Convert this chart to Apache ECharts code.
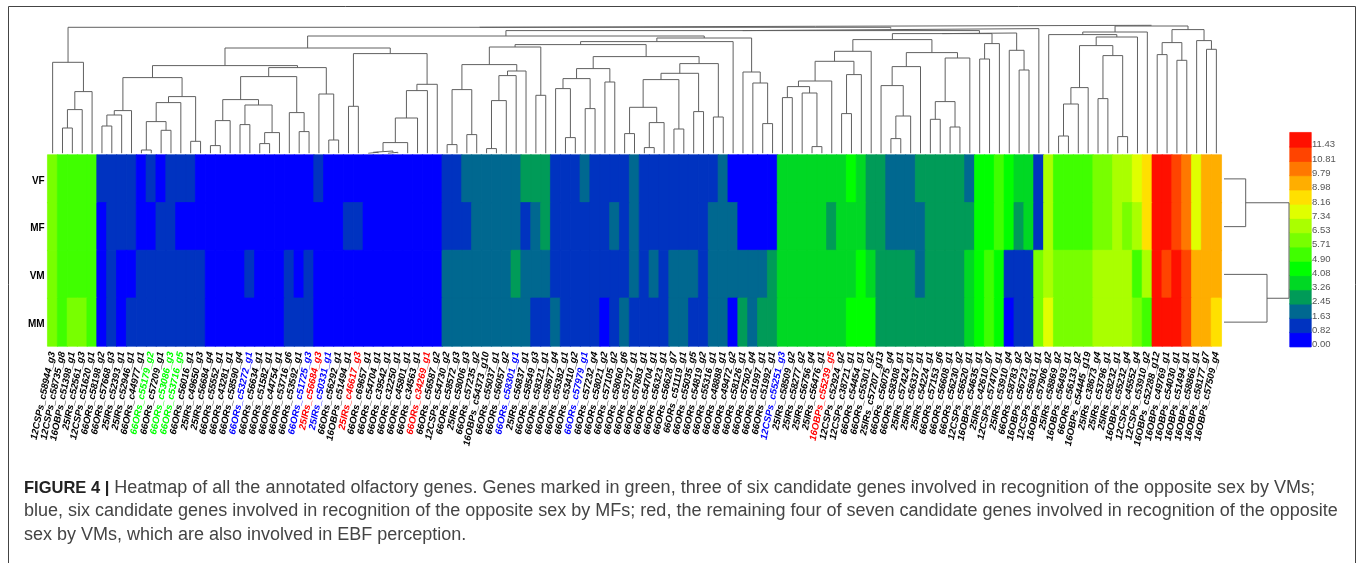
<!DOCTYPE html>
<html><head><meta charset="utf-8">
<style>html,body{margin:0;padding:0;background:#fff}#c{width:1357px;height:563px}</style>
<script src="https://cdn.jsdelivr.net/npm/echarts@6/dist/echarts.min.js"></script>
</head><body><div id="c"></div>
<script>
const samples = ['VF','MF','VM','MM'];
const genes = ['12CSPs_c58944_g3','12CSPs_c58735_g8','16OBPs_c51398_g1','25IRs_c52561_g3','12CSPs_c51620_g1','66ORs_c58198_g2','66ORs_c57668_g3','25IRs_c52393_g1','25IRs_c52946_g1','66ORs_c44977_g1',
'66ORs_c55179_g2','66ORs_c57209_g1','66ORs_c53086_g3','66ORs_c53716_g5','66ORs_c56016_g1','25IRs_c49650_g3','25IRs_c56684_g4','66ORs_c55552_g1','66ORs_c43281_g1','66ORs_c58590_g4',
'66ORs_c53272_g1','66ORs_c56634_g1','66ORs_c51582_g1','66ORs_c44754_g1','66ORs_c53716_g6','66ORs_c53592_g1','66ORs_c51725_g3','25IRs_c56684_g3','25IRs_c50331_g1','66ORs_c56292_g1',
'16OBPs_c51494_g1','25IRs_c46617_g3','66ORs_c69657_g1','66ORs_c54704_g1','66ORs_c39542_g1','66ORs_c32250_g1','66ORs_c45801_g1','66ORs_c34563_g1','66ORs_c34269_g1','66ORs_c56587_g2',
'12CSPs_c54730_g2','66ORs_c58572_g3','25IRs_c58006_g3','66ORs_c57235_g2','16OBPs_c54373_g10','66ORs_c55037_g1','66ORs_c56057_g2','66ORs_c58301_g1','25IRs_c56837_g1','66ORs_c58549_g3',
'66ORs_c58321_g1','66ORs_c58677_g4','66ORs_c55382_g1','66ORs_c53410_g2','66ORs_c57979_g1','66ORs_c57232_g4','66ORs_c58021_g2','66ORs_c57105_g2','66ORs_c58060_g6','66ORs_c53737_g1',
'66ORs_c57883_g1','66ORs_c54704_g1','66ORs_c56323_g1','66ORs_c56628_g7','66ORs_c51119_g1','66ORs_c55035_g5','66ORs_c54819_g2','66ORs_c55316_g1','66ORs_c48888_g1','66ORs_c49472_g2',
'66ORs_c58126_g1','66ORs_c57502_g4','66ORs_c51997_g1','66ORs_c51992_g1','12CSPs_c55251_g3','25IRs_c58509_g2','25IRs_c58277_g2','25IRs_c56756_g4','25IRs_c56476_g1','16OBPs_c55239_g5',
'12CSPs_c52924_g2','12CSPs_c38721_g1','66ORs_c54454_g1','66ORs_c55301_g2','25IRs_c57207_g13','66ORs_c56075_g4','66ORs_c58308_g1','25IRs_c57424_g1','25IRs_c56337_g1','25IRs_c54224_g1',
'66ORs_c57153_g6','66ORs_c56608_g1','66ORs_c56230_g2','12CSPs_c56520_g1','16OBPs_c54635_g1','25IRs_c42610_g7','12CSPs_c57470_g1','25IRs_c53910_g4','66ORs_c58783_g2','16OBPs_c56723_g2',
'12CSPs_c56831_g1','16OBPs_c57906_g2','25IRs_c58869_g2','16OBPs_c56493_g1','66ORs_c56133_g2','16OBPs_c54445_g19','25IRs_c38673_g4','25IRs_c53796_g1','25IRs_c58232_g1','16OBPs_c55232_g4',
'12CSPs_c45552_g4','12CSPs_c53910_g2','16OBPs_c52288_g12','16OBPs_c49769_g1','16OBPs_c54030_g1','16OBPs_c51494_g1','16OBPs_c58866_g1','16OBPs_c58177_g7','16OBPs_c57509_g4'];
const greenGenes = ['66ORs_c55179_g2','66ORs_c53086_g3','66ORs_c53716_g5'];
const blueGenes = ['66ORs_c53272_g1','66ORs_c51725_g3','25IRs_c50331_g1','66ORs_c58301_g1','66ORs_c57979_g1','12CSPs_c55251_g3'];
const redGenes = ['25IRs_c56684_g3','25IRs_c46617_g3','66ORs_c34269_g1','16OBPs_c55239_g5'];

const scaleTicks = [0.00,0.82,1.63,2.45,3.26,4.08,4.90,5.71,6.53,7.34,8.16,8.98,9.79,10.81,11.43];
const scaleColors = ['#0000ff','#0033c0','#006890','#009b58','#00d824','#00ff00','#40ff00','#78ff00','#aaff00','#e0ff00','#ffe000','#ffae00','#ff7800','#ff4400','#ff1000'];

/* expression, as steps of the colour scale */
const rowVF = [7,6,6,6,6,1,1,1,1,0, 1,0,1,1,1,0,0,0,0,0, 0,0,0,0,0,0,0,1,0,0, 0,0,0,0,0,0,0,0,0,0,
 1,1,2,2,2,2,2,2,3,3, 3,1,1,1,2,1,1,1,1,2, 1,1,1,1,1,1,1,1,2,0, 0,0,0,0,4,4,4,4,4,4,
 4,5,4,3,3,2,2,2,3,3, 3,3,3,2,5,5,6,5,4,4, 1,8,6,6,6,6,7,7,8,8, 9,10,14,14,13,12,9,11,11];
const rowMF = [7,6,6,6,6,0,1,1,1,0, 0,1,1,0,0,0,0,0,0,0, 0,0,0,0,0,0,0,0,0,0, 1,1,0,0,0,0,0,0,0,0,
 1,1,1,2,2,2,2,2,1,2, 3,1,1,1,1,1,1,2,1,2, 1,1,1,1,1,1,1,2,2,2, 0,0,0,0,4,4,4,4,4,3,
 4,4,4,3,3,2,2,2,2,3, 3,3,3,3,5,5,6,5,3,4, 1,8,6,6,6,6,7,7,8,7, 8,10,14,14,13,12,9,11,11];
const rowVM = [7,6,6,6,6,0,1,0,0,1, 1,1,1,1,1,1,0,0,0,0, 1,0,0,0,1,0,1,0,0,0, 0,0,0,0,0,0,0,0,0,0,
 2,2,2,2,2,2,2,3,2,2, 2,1,1,1,1,1,1,1,1,2, 1,2,1,2,2,2,1,2,2,2, 2,2,2,3,4,4,4,4,4,4,
 4,4,5,4,3,3,3,3,2,3, 3,3,3,4,5,6,5,1,1,1, 7,8,7,7,7,7,8,8,8,8, 6,8,14,13,14,13,11,11,11];
const rowMM = [7,6,7,7,6,0,1,0,1,1, 1,1,1,1,1,1,0,0,0,0, 0,0,0,0,1,1,1,0,0,0, 0,0,0,0,0,0,0,0,0,0,
 2,2,2,2,2,2,2,2,2,1, 1,2,1,1,1,1,0,1,2,1, 1,1,1,2,2,1,1,2,2,0, 3,2,3,3,4,4,4,4,4,4,
 4,5,5,5,3,3,3,3,3,3, 3,3,3,4,5,6,5,0,1,1, 7,9,7,7,7,7,8,8,8,8, 7,6,14,14,14,13,11,11,10];
const rows = [rowVF,rowMF,rowVM,rowMM];

/* gene clustering: [merge height, left, right]; a bare number is a column */
const geneTree = [128,
 [126,
  [91,0,[61.7,[43.7,[25.3,1,2],3],4]],
  [124.7,
   [122.7,
    [117.3,
     [105.3,
      [87.7,
       [75.7,
        [42.7,[38.3,[27.3,5,6],7],8],
        [56.7,[50.7,[31.7,[3.3,9,10],[23,11,12]],13],[12,14,15]]],
       [85.7,
        [76.7,
         [53.7,[32.7,[7.7,16,17],18],[48.3,[28.7,19,20],[20.7,[9.7,21,22],23]]],
         [40.7,24,[21.7,25,26]]],
        [59.3,27,[13.3,28,29]]]],
      [99.7,
       [47,30,31],
       [69,[62.7,[35.3,[10.7,[2.3,[1,32,33],[1,34,35]],36],37],38],39]]],
     [115.3,
      [111.7,
       [108.7,
        [106.3,
         [88.7,[63.7,[8.7,40,41],[18.7,42,43]],[82.3,[77.7,[52.7,[4.7,44,45],46],47],48]],
         [58,49,50]],
        [96.7,
         [84.7,[74.7,[64.7,51,[15.7,52,53]],[44.7,54,55]],[71.3,56,57]],
         [89.7,[80,[73.7,[46,[19.7,58,59],[30.7,[5.7,60,61],62]],[24.3,63,64]],[41.7,65,66]],[36.3,67,68]]]],
       69],
      [81.3,70,[70.3,71,[29.7,72,73]]]]],
    [120.3,
     [119.7,
      [113.7,
       [102,
        [92,
         [72.3,[66.7,[55.7,74,75],[60.3,76,[6.7,77,78]]],79],
         [78.7,[39.7,80,81],82]],
        83],
       [100.7,
        [86.7,[67.7,84,[37.3,[14.7,85,86],87]],88],
        [95.3,[51.7,[34,89,90],[26.3,91,92]],93]]],
      [109.7,[94.3,94,95],96]],
     [103,97,[83.3,98,99]]]],
   100]],
 [127.3,
  [121.3,
   [118.7,101,
    [116.3,
     [107.7,[65.7,[49.3,[17.3,102,103],104],105],[97.7,[54.7,106,107],[16.7,108,109]]],
     110]],
   111],
  [123.7,
   [110.7,[98.7,112,113],[93,114,115]],
   [112.7,116,[104,117,118]]]]];
const sampleTree = [65,[21.7,0,1],[43,2,3]];

const captionLines = [
 '{b|FIGURE 4 |} Heatmap of all the annotated olfactory genes. Genes marked in green, three of six candidate genes involved in recognition of the opposite sex by VMs;',
 'blue, six candidate genes involved in recognition of the opposite sex by MFs; red, the remaining four of seven candidate genes involved in recognition of the opposite',
 'sex by VMs, which are also involved in EBF perception.'];

function segments(tree, toPoint){
  const out=[];
  (function walk(n){
    if(typeof n==='number') return {p:n+0.5,h:0};
    const a=walk(n[1]), b=walk(n[2]);
    [[a.p,a.h],[a.p,n[0]],[b.p,n[0]],[b.p,b.h]].forEach(q=>out.push(toPoint(q[0],q[1])));
    out.push([null,null]);
    return {p:(a.p+b.p)/2,h:n[0]};
  })(tree);
  return out;
}
/* a hairline border in each cell's own colour closes the seams between cells */
const cell=(x,y,lv)=>({value:[x,y,scaleTicks[lv]],itemStyle:{borderColor:scaleColors[lv],borderWidth:0.7}});
const heat=[];
rows.forEach((r,j)=>r.forEach((lv,i)=>heat.push(cell(i,j,lv))));
const labelFont='"Liberation Sans",Arial,sans-serif';
const noAxis={show:false};
const chart=echarts.init(document.getElementById('c'),null,{renderer:'canvas'});
const L=47.7,W=1173.6;
chart.setOption({
 animation:false,backgroundColor:'#fff',
 grid:[
  {left:L,width:W,top:155,height:191},
  {left:L,width:W,top:0,height:153.3},
  {left:1224,width:65,top:155,height:191},
  {left:1290,width:21,top:132.7,height:214}
 ],
 xAxis:[
  {type:'category',gridIndex:0,data:genes,position:'bottom',axisLine:noAxis,axisTick:noAxis,splitLine:noAxis,
   axisLabel:{interval:0,rotate:78,margin:6,fontSize:9.6,fontWeight:'bold',fontStyle:'italic',fontFamily:labelFont,
    color:(v)=>greenGenes.includes(v)?'#00ff00':blueGenes.includes(v)?'#0000ff':redGenes.includes(v)?'#ff0000':'#000'}},
  {type:'value',gridIndex:1,min:0,max:genes.length,show:false},
  {type:'value',gridIndex:2,min:0,max:65,show:false},
  {type:'category',gridIndex:3,data:['c'],show:false}
 ],
 yAxis:[
  {type:'category',gridIndex:0,data:samples,inverse:true,axisLine:noAxis,axisTick:noAxis,splitLine:noAxis,
   axisLabel:{margin:3,formatter:v=>`{a|${v}}`,
    rich:{a:{fontSize:10,fontWeight:'bold',fontFamily:labelFont,color:'#000',padding:[4,0,0,0]}}}},
  {type:'value',gridIndex:1,min:0,max:153.3,show:false},
  {type:'value',gridIndex:2,min:0,max:4,inverse:true,show:false},
  {type:'category',gridIndex:3,position:'right',data:scaleTicks.map(v=>v.toFixed(2)),axisLine:noAxis,axisTick:noAxis,splitLine:noAxis,
   axisLabel:{interval:0,margin:1,fontSize:9.5,fontFamily:labelFont,color:'#555',verticalAlign:'top'}}
 ],
 visualMap:{show:false,type:'piecewise',seriesIndex:[0,3],dimension:2,
  pieces:scaleTicks.map((v,i)=>({value:v,color:scaleColors[i]}))},
 series:[
  {type:'heatmap',xAxisIndex:0,yAxisIndex:0,data:heat,emphasis:{disabled:true},progressive:0},
  {type:'line',xAxisIndex:1,yAxisIndex:1,data:segments(geneTree,(p,h)=>[p,h]),showSymbol:false,connectNulls:false,
   lineStyle:{color:'#606060',width:1},silent:true},
  {type:'line',xAxisIndex:2,yAxisIndex:2,data:segments(sampleTree,(p,h)=>[h,p]),showSymbol:false,connectNulls:false,
   lineStyle:{color:'#606060',width:1},silent:true},
  {type:'heatmap',xAxisIndex:3,yAxisIndex:3,data:scaleTicks.map((v,i)=>cell(0,i,i)),emphasis:{disabled:true},progressive:0}
 ],
 graphic:[
  {type:'polyline',shape:{points:[[8.5,563],[8.5,6.5],[1355.5,6.5],[1355.5,563]]},style:{stroke:'#444',fill:null,lineWidth:1},silent:true},
  ...captionLines.map((t,i)=>({type:'text',left:24,top:479+i*23.5,
    style:{text:t,font:'18px "Liberation Sans",Arial,sans-serif',fill:'#444',
     rich:{b:{font:'bold 16.5px "Liberation Sans",Arial,sans-serif',fill:'#222'}}}}))
 ]
});
</script></body></html>
